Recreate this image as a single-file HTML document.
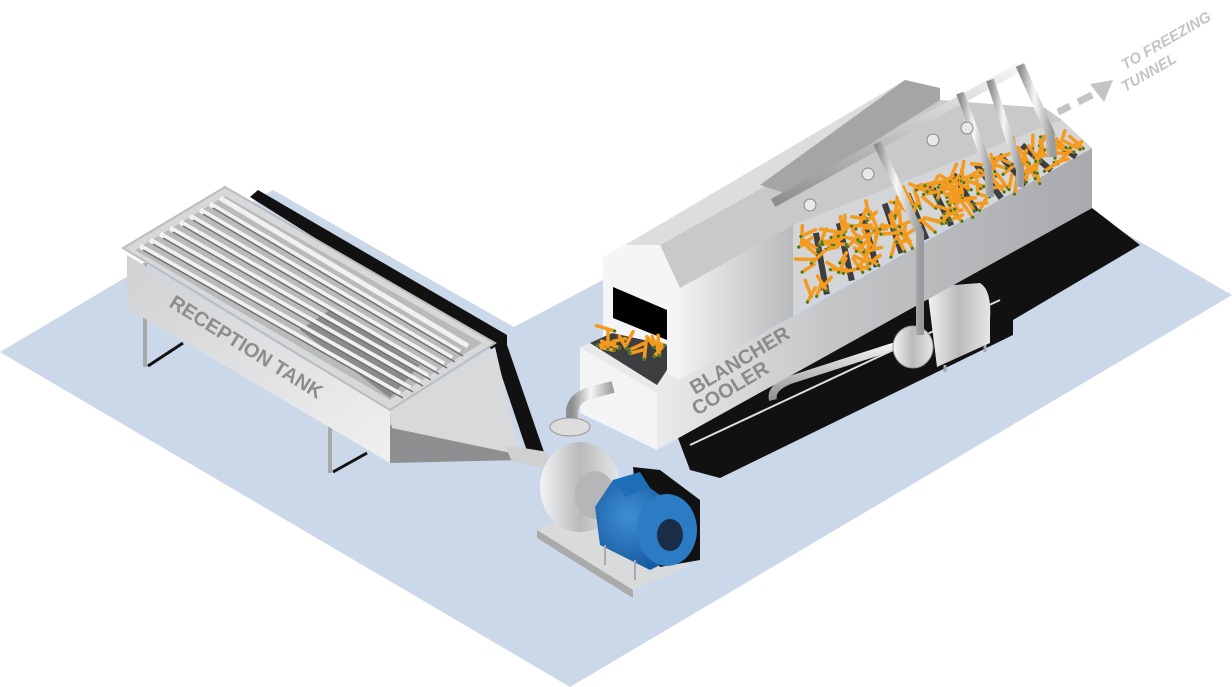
<!DOCTYPE html>
<html><head><meta charset="utf-8"><style>
html,body{margin:0;padding:0;background:#fff;width:1232px;height:687px;overflow:hidden}
svg{display:block}
text{font-family:"Liberation Sans",sans-serif;font-weight:bold}
</style></head><body>
<svg id="s" width="1232" height="687" viewBox="0 0 1232 687" xmlns="http://www.w3.org/2000/svg">
<defs>
<linearGradient id="met" x1="0" y1="0" x2="1" y2="0"><stop offset="0" stop-color="#f2f3f4"/><stop offset="0.5" stop-color="#b9babc"/><stop offset="1" stop-color="#e6e7e8"/></linearGradient>
<linearGradient id="side" x1="0" y1="0" x2="1" y2="0"><stop offset="0" stop-color="#e9eaeb"/><stop offset="0.4" stop-color="#c4c5c7"/><stop offset="1" stop-color="#a9aaad"/></linearGradient>
<linearGradient id="hside" x1="0" y1="0" x2="1" y2="0"><stop offset="0" stop-color="#f0f1f2"/><stop offset="1" stop-color="#b9babc"/></linearGradient>
<linearGradient id="tankf" x1="0" y1="0" x2="1" y2="1"><stop offset="0" stop-color="#d0d1d3"/><stop offset="1" stop-color="#f0f0f1"/></linearGradient>
<linearGradient id="pipe" x1="0" y1="0" x2="1" y2="0"><stop offset="0" stop-color="#8d8e90"/><stop offset="0.45" stop-color="#f6f6f6"/><stop offset="1" stop-color="#9a9b9d"/></linearGradient>
<linearGradient id="pipeh" x1="0" y1="0" x2="0" y2="1"><stop offset="0" stop-color="#f6f6f6"/><stop offset="1" stop-color="#8d8e90"/></linearGradient>
<radialGradient id="blue" cx="0.4" cy="0.4" r="0.7"><stop offset="0" stop-color="#3f8fd2"/><stop offset="1" stop-color="#12539a"/></radialGradient>
</defs>
<polygon points="0,352 273,190 514,327 918,113 1232,295 570,687" fill="#cbd8ea"/>
<polygon points="250,197 258,190 507,335 507,345 545,455 530,460 493,350" fill="#111"/>
<g stroke="#a8a9ab" stroke-width="4" fill="none">
<line x1="145" y1="263" x2="145" y2="367"/><line x1="330" y1="373" x2="330" y2="473"/></g>
<g stroke="#111" stroke-width="3" fill="none"><line x1="148" y1="366" x2="183" y2="343"/><line x1="333" y1="472" x2="367" y2="453"/></g>
<polygon points="127,255 390,410 390,463 127,308" fill="url(#tankf)"/>
<polygon points="390,410 495,347 520,457 390,463" fill="#c9cacc"/>
<polygon points="390,425 520,452 520,460 390,463" fill="#8e8f91"/>
<polygon points="390,410 495,347 520,455 392,428" fill="#d8d9db"/>
<polygon points="505,445 548,452 548,468 512,462" fill="#cfd0d2"/>
<polygon points="123,248 225,187 495,343 390,410" fill="#d7d8da" stroke="#bbbcbe" stroke-width="2"/>
<polygon points="135,250 225,196 482,343 390,400" fill="#b9babc"/>
<polygon points="300,330 330,310 420,365 390,398" fill="#8a8b8d"/>
<g stroke="#f1f1f2" stroke-width="5">
<line x1="140" y1="246" x2="400" y2="394"/><line x1="150" y1="240" x2="410" y2="388"/><line x1="160" y1="234" x2="420" y2="382"/><line x1="170" y1="228" x2="428" y2="376"/><line x1="180" y1="222" x2="436" y2="370"/><line x1="190" y1="216" x2="444" y2="364"/><line x1="200" y1="210" x2="452" y2="358"/><line x1="210" y1="204" x2="460" y2="352"/><line x1="220" y1="198" x2="468" y2="346"/></g>
<g stroke="#6f7072" stroke-width="1.5">
<line x1="143" y1="250" x2="403" y2="398"/><line x1="153" y1="244" x2="413" y2="392"/><line x1="163" y1="238" x2="423" y2="386"/><line x1="173" y1="232" x2="431" y2="380"/><line x1="183" y1="226" x2="439" y2="374"/><line x1="193" y1="220" x2="447" y2="368"/><line x1="203" y1="214" x2="455" y2="362"/><line x1="213" y1="208" x2="463" y2="356"/></g>
<text font-size="20" fill="#8c8d8f" transform="translate(168,306) rotate(32)">RECEPTION TANK</text>
<polygon points="678,438 1092,208 1140,245 1013,320 1013,335 720,478 690,470" fill="#111"/>
<g stroke="url(#pipe)" stroke-width="6" fill="none">
<line x1="727" y1="413" x2="727" y2="473"/><line x1="873" y1="327" x2="873" y2="387"/></g>
<path d="M773 400 Q770 388 790 380 L905 343" fill="none" stroke="url(#pipeh)" stroke-width="8"/>
<g stroke="#ddd" stroke-width="2" fill="none"><path d="M690 445 L1000 300"/></g>
<path d="M927 287 L980 283 Q992 290 990 320 L990 343 L937 367 Z" fill="url(#met)"/>
<g stroke="#aaa" stroke-width="3"><line x1="945" y1="365" x2="945" y2="372"/><line x1="985" y1="345" x2="985" y2="352"/></g>
<ellipse cx="913" cy="347" rx="20" ry="21" fill="url(#met)" stroke="#999"/>
<polygon points="657,393 1092,148 1092,208 657,450" fill="url(#side)"/>
<polygon points="660,245 680,288 793,225 1062,120 1045,108 940,100 940,88" fill="#c8c9cb"/>
<polygon points="625,245 660,245 940,88 905,80" fill="#dcdddf"/>
<polygon points="760,185 905,80 940,88 940,100 790,195" fill="#a4a5a7"/>
<polygon points="793,225 1062,120 1092,148 793,313" fill="#d4d5d7"/>
<g id="bars" stroke="#3d3e40" stroke-width="6"></g>
<polygon points="680,288 793,225 793,316 680,380" fill="url(#hside)"/>
<polygon points="603,257 625,245 660,245 680,288 680,380 603,340" fill="#f4f5f6"/>
<polygon points="613,287 667,310 667,340 613,318" fill="#000"/>
<polygon points="580,347 603,338 603,340 680,380 657,393" fill="#e8e9ea"/>
<polygon points="580,347 657,393 657,450 580,413" fill="#f3f4f5"/>
<polygon points="590,343 612,333 667,345 667,370 657,385" fill="#3d3e40"/>
<g id="carr"></g>
<g fill="none" stroke="url(#pipe)">
<path d="M773 203 L1020 67" stroke="url(#pipeh)" stroke-width="9"/>
<path d="M877 143 L920 233 L920 335" stroke-width="8"/>
<path d="M960 93 L988 167 L990 197" stroke-width="8"/>
<path d="M990 80 L1020 170 L1020 187" stroke-width="8"/>
<path d="M1020 65 L1050 133 L1052 157" stroke-width="9"/>
</g>
<g fill="#e8e8e9" stroke="#888" stroke-width="1"><circle cx="810" cy="205" r="6"/><circle cx="868" cy="174" r="6"/><circle cx="933" cy="140" r="6"/><circle cx="967" cy="128" r="6"/></g>
<text font-size="20" fill="#8a8b8d" transform="translate(695,395) rotate(-31)">BLANCHER</text>
<text font-size="20" fill="#8a8b8d" transform="translate(697,416) rotate(-31)">COOLER</text>
<polygon points="537,530 570,515 690,565 633,590" fill="#d9dadb"/>
<polygon points="537,530 633,590 633,598 537,538" fill="#aaa"/>
<path d="M572 427 L572 410 Q574 398 590 393 L613 387" fill="none" stroke="url(#pipe)" stroke-width="12"/>
<ellipse cx="570" cy="427" rx="20" ry="9" fill="#ddd" stroke="#999"/>
<ellipse cx="580" cy="487" rx="40" ry="45" fill="url(#met)"/>
<ellipse cx="595" cy="495" rx="20" ry="24" fill="#b5b6b8"/>
<polygon points="633,467 660,470 700,500 700,560 660,567 640,540" fill="#111"/>
<polygon points="595,507 613,480 650,488 667,500 680,555 650,570 600,545" fill="url(#blue)"/>
<ellipse cx="667" cy="530" rx="30" ry="36" fill="#2b7cc4"/>
<ellipse cx="670" cy="535" rx="13" ry="16" fill="#1a2d48"/>
<polygon points="613,480 640,472 650,488 625,497" fill="#1f6fb8"/>
<g stroke="#aaa" stroke-width="2"><line x1="605" y1="545" x2="605" y2="565"/><line x1="635" y1="560" x2="635" y2="580"/></g>
<g stroke="#c3c4c6" stroke-width="7"><line x1="1058" y1="112" x2="1070" y2="106"/><line x1="1078" y1="102" x2="1092" y2="95"/></g>
<polygon points="1090,84 1113,80 1104,102" fill="#c3c4c6"/>
<text font-size="15" font-style="italic" fill="#c3c4c6" transform="translate(1125,70) rotate(-30)">TO FREEZING</text>
<text font-size="15" font-style="italic" fill="#c3c4c6" transform="translate(1125,92) rotate(-30)">TUNNEL</text>
</svg>
<script>
(function(){
var ns="http://www.w3.org/2000/svg",s=1;
function r(){s=(s*9301+49297)%233280;return s/233280;}
function P(u,v){var xb=793+269*u,yb=225-105*u,xf=793+299*u,yf=313-165*u;return [xb+(xf-xb)*v,yb+(yf-yb)*v];}
var bars=document.getElementById('bars');
for(var i=1;i<12;i++){var u=i/12,a=P(u,0.2),b=P(u+0.03,1);
var l=document.createElementNS(ns,'line');l.setAttribute('x1',a[0]);l.setAttribute('y1',a[1]);l.setAttribute('x2',b[0]);l.setAttribute('y2',b[1]);bars.appendChild(l);}
var g=document.getElementById('carr');
function car(x,y){var a=r()*Math.PI,L=6+r()*4;var dx=Math.cos(a)*L,dy=Math.sin(a)*L;
var l=document.createElementNS(ns,'line');l.setAttribute('x1',x-dx);l.setAttribute('y1',y-dy);l.setAttribute('x2',x+dx);l.setAttribute('y2',y+dy);l.setAttribute('stroke','#f39a1f');l.setAttribute('stroke-width','3.5');l.setAttribute('stroke-linecap','round');g.appendChild(l);
var c=document.createElementNS(ns,'circle');c.setAttribute('cx',x+dx);c.setAttribute('cy',y+dy);c.setAttribute('r','1.5');c.setAttribute('fill','#2e7d32');g.appendChild(c);}
for(var k=0;k<190;k++){var p=P(0.02+r()*0.96,0.15+r()*0.78);car(p[0],p[1]);}
for(var k=0;k<16;k++){car(605+r()*55,328+r()*30);}
})();
</script>
</body></html>
